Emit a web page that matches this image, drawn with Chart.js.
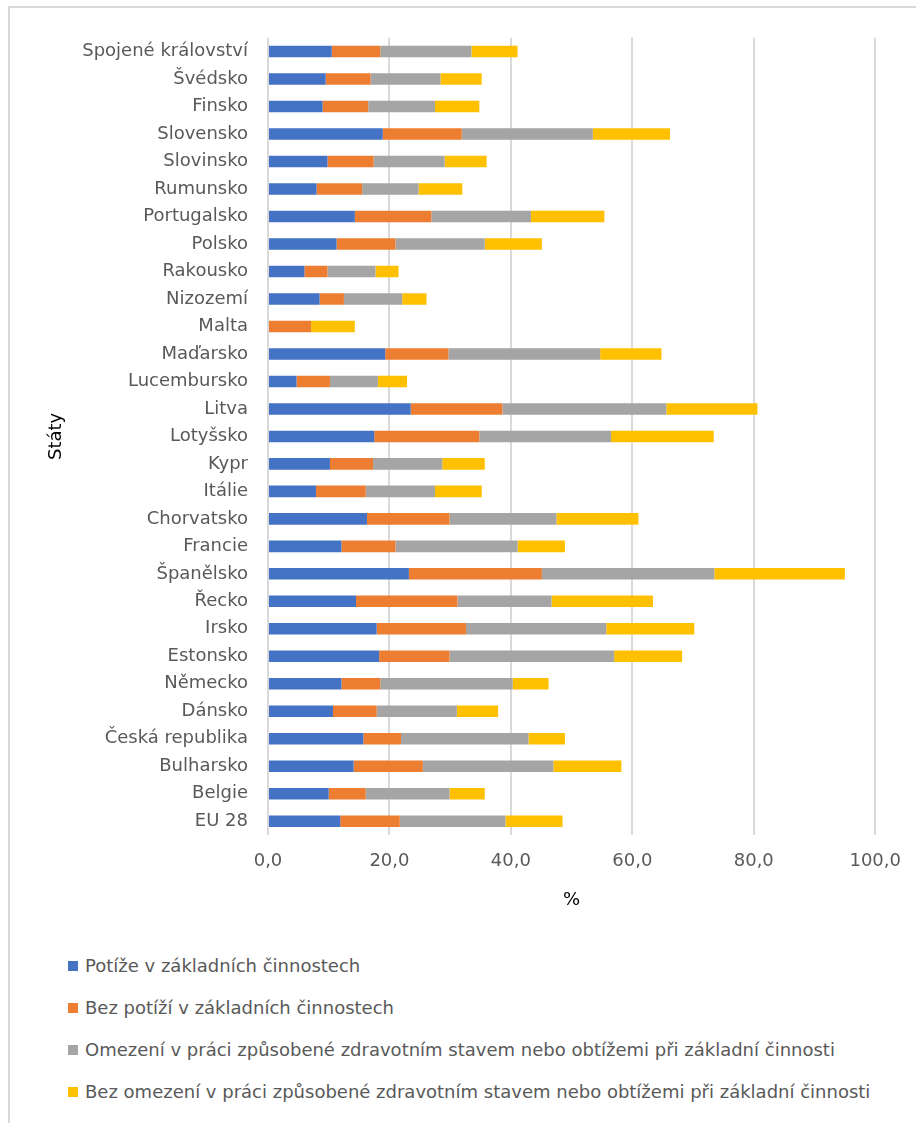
<!DOCTYPE html>
<html lang="cs">
<head>
<meta charset="utf-8">
<script src="https://cdn.jsdelivr.net/npm/chart.js@4.4.1/dist/chart.umd.min.js"></script>
<style>
  body { margin: 0; background: #fff; font-family: "DejaVu Sans", sans-serif; overflow: hidden; }
  #frame {
    position: absolute; left: 8px; top: 6px; width: 940px; height: 1140px;
    border: 2px solid #d9d9d9; box-sizing: border-box;
  }
  #wrap { position: absolute; left: 9px; top: 7px; width: 908px; height: 925px; }
  #legend { position: absolute; left: 68px; top: 955px; }
  .item { height: 42px; display: flex; align-items: flex-start; color: #595959; font-size: 18px; }
  .box { width: 10px; height: 10px; margin: 6px 7px 0 0; flex: none; }
</style>
</head>
<body>
<div id="frame"></div>
<div id="wrap"><canvas id="chart" width="908" height="925"></canvas></div>
<div id="legend"></div>

<script>
/* ================= DATA ================= */

const states = [
  "Spojené království", "Švédsko", "Finsko", "Slovensko", "Slovinsko",
  "Rumunsko", "Portugalsko", "Polsko", "Rakousko", "Nizozemí", "Malta",
  "Maďarsko", "Lucembursko", "Litva", "Lotyšsko", "Kypr", "Itálie",
  "Chorvatsko", "Francie", "Španělsko", "Řecko", "Irsko", "Estonsko",
  "Německo", "Dánsko", "Česká republika", "Bulharsko", "Belgie", "EU 28"
];

const seriesNames = [
  "Potíže v základních činnostech",
  "Bez potíží v základních činnostech",
  "Omezení v práci způsobené zdravotním stavem nebo obtížemi při základní činnosti",
  "Bez omezení v práci způsobené zdravotním stavem nebo obtížemi při základní činnosti"
];

const difficulties = [10.5, 9.5, 9.0, 18.9, 9.8, 8.0, 14.3, 11.3, 6.0, 8.5, 0, 19.3, 4.7, 23.5, 17.5, 10.2, 7.9, 16.3, 12.1, 23.2, 14.5, 17.9, 18.3, 12.1, 10.7, 15.7, 14.1, 10.0, 11.9];
const noDifficulties = [8.0, 7.4, 7.5, 13.0, 7.6, 7.5, 12.6, 9.7, 3.8, 4.0, 7.1, 10.4, 5.5, 15.1, 17.3, 7.1, 8.2, 13.6, 8.9, 21.9, 16.7, 14.7, 11.6, 6.4, 7.2, 6.2, 11.4, 6.1, 9.8];
const limitation = [15.0, 11.5, 11.0, 21.6, 11.7, 9.3, 16.4, 14.7, 7.9, 9.6, 0, 25.0, 7.9, 27.0, 21.7, 11.4, 11.4, 17.6, 20.1, 28.4, 15.5, 23.1, 27.1, 21.8, 13.2, 21.0, 21.5, 13.8, 17.4];
const noLimitation = [7.6, 6.8, 7.3, 12.7, 6.9, 7.2, 12.1, 9.4, 3.8, 4.0, 7.2, 10.1, 4.8, 15.0, 16.9, 7.0, 7.7, 13.5, 7.8, 21.5, 16.7, 14.5, 11.2, 5.9, 6.8, 6.0, 11.2, 5.8, 9.4];

const colors = ["#4472c4", "#ed7d31", "#a5a5a5", "#ffc000"];
const values = [difficulties, noDifficulties, limitation, noLimitation];

/* ================= CHART ================= */

const FONT = "'DejaVu Sans', sans-serif";

new Chart(document.getElementById("chart"), {
  type: "bar",
  data: {
    labels: states,
    datasets: values.map((v, i) => ({
      label: seriesNames[i],
      data: v,
      backgroundColor: colors[i],
      borderWidth: 0,
      categoryPercentage: 0.84,
      barPercentage: 0.5
    }))
  },
  options: {
    indexAxis: "y",
    responsive: false,
    animation: false,
    layout: { padding: { top: 27, right: 0, bottom: 12, left: 0 } },
    plugins: { legend: { display: false }, tooltip: { enabled: false } },
    scales: {
      x: {
        stacked: true,
        min: 0,
        max: 100,
        ticks: {
          stepSize: 20,
          padding: 16,
          color: "#595959",
          font: { family: FONT, size: 18 },
          callback: v => v.toFixed(1).replace(".", ",")
        },
        grid: { color: "#d9d9d9", lineWidth: 2, drawTicks: false },
        border: { display: false },
        title: {
          display: true,
          text: "%",
          color: "#000",
          padding: { top: 0, bottom: 9 },
          font: { family: FONT, size: 18 }
        },
        afterFit: s => { s.height = 85; }
      },
      y: {
        stacked: true,
        ticks: {
          padding: 20,
          color: "#595959",
          autoSkip: false,
          font: { family: FONT, size: 18 }
        },
        grid: { display: false, drawTicks: false },
        border: { display: false },
        title: {
          display: true,
          text: "Státy",
          color: "#000",
          padding: { top: 37, bottom: 0 },
          font: { family: FONT, size: 18 }
        },
        afterFit: s => { s.width = 259; }
      }
    }
  }
});

/* ================= LEGEND ================= */

const legend = document.getElementById("legend");
seriesNames.forEach((name, i) => {
  legend.innerHTML += `
    <div class="item">
      <span class="box" style="background:${colors[i]}"></span>
      <span>${name}</span>
    </div>`;
});
</script>
</body>
</html>
